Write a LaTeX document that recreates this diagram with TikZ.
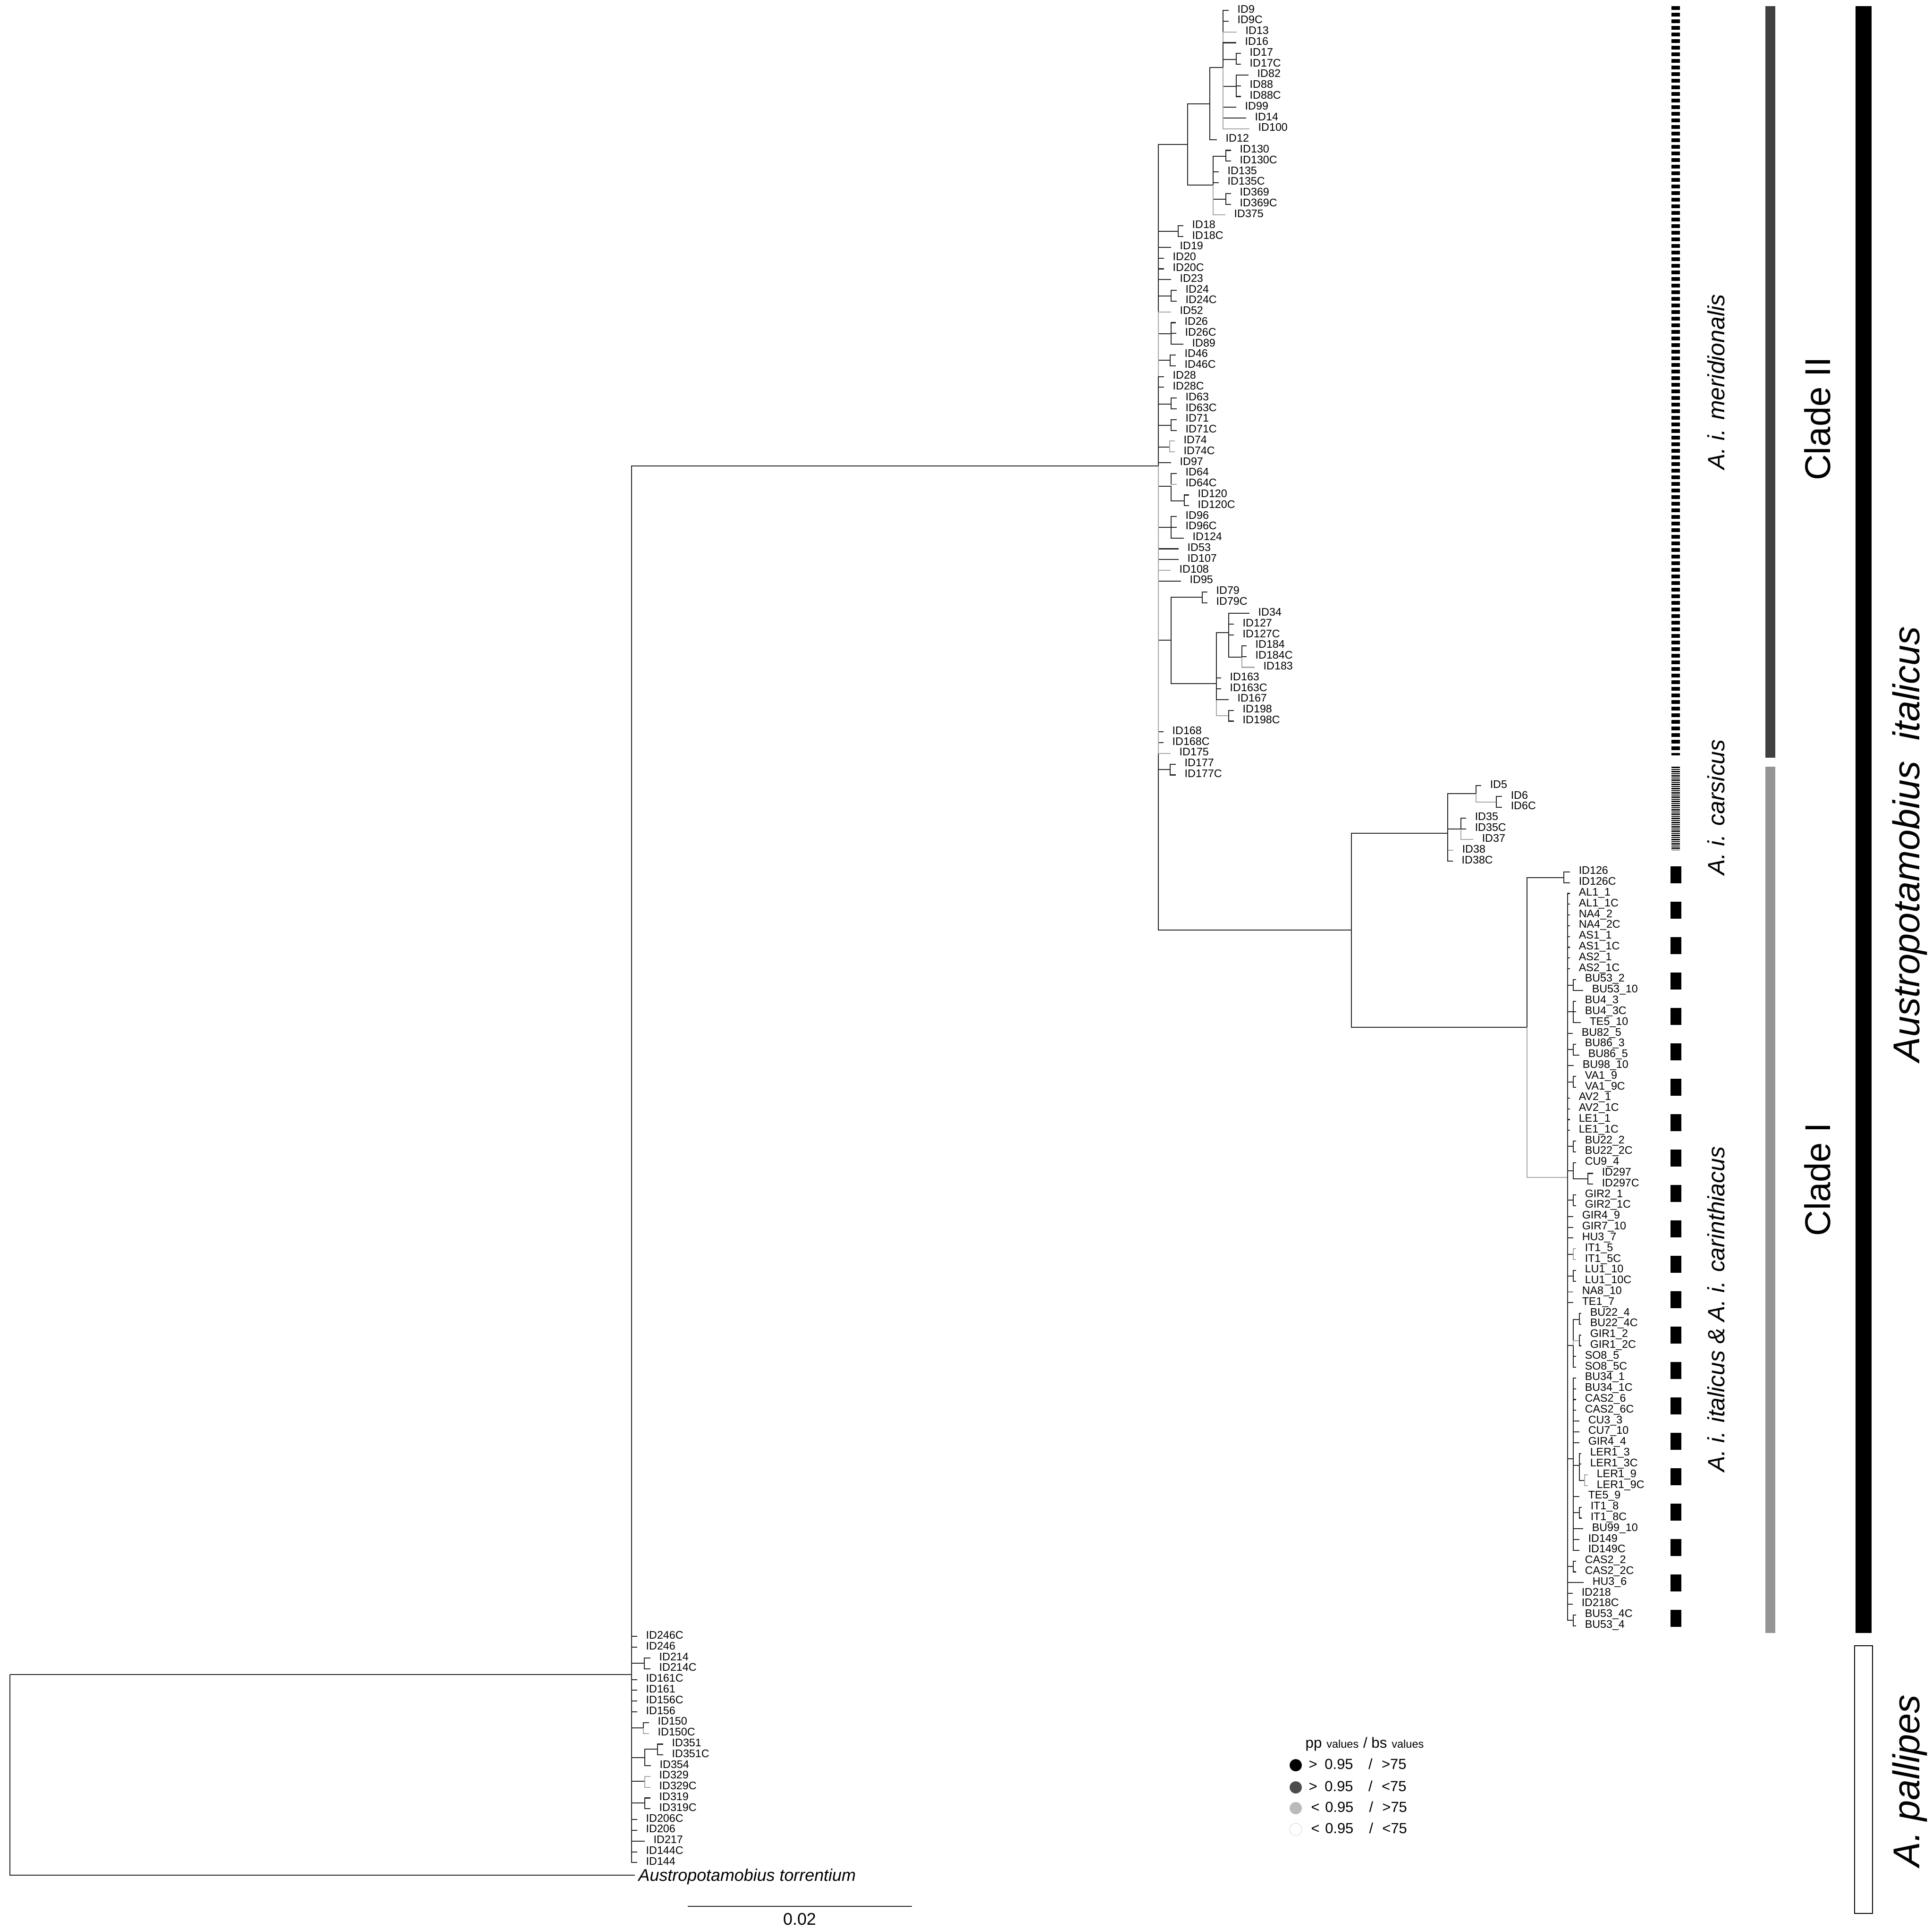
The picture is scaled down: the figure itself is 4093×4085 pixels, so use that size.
\documentclass[tikz,border=0pt]{standalone}
\usepackage{fontspec}
\setmainfont{Liberation Sans}
\usetikzlibrary{calc}
\newcommand\Lf[5][br]{%
  \coordinate (t#4) at (#3,{22+(#4-1)*22.81});
  \node[lab] (l#4) at ($(t#4)+(18,5)$) {#5};
  \draw[#1] (#2) |- (t#4);
}
\begin{document}
\begin{tikzpicture}[x=0.1mm,y=-0.1mm,
  br/.style={draw=black!85,line width=0.6pt},
  brl/.style={draw=black!35,line width=0.6pt},
  lab/.style={anchor=base west,inner sep=0pt,font=\fontsize{6.63pt}{7pt}\selectfont},
  subsp/.style={rotate=90,inner sep=0pt,font=\fontsize{14.2pt}{16pt}\selectfont\itshape},
  bigl/.style={rotate=90,inner sep=0pt,font=\fontsize{21.6pt}{24pt}\selectfont},
  legt/.style={anchor=base west,inner sep=0pt,font=\fontsize{8.8pt}{10pt}\selectfont},
  dot/.style={circle,inner sep=0pt,minimum size=2.6mm},
]
\useasboundingbox[fill=white] (0,0) rectangle (4093,4085);
% ---------- internal nodes ----------
\coordinate (root) at (21,3547);
\coordinate (P) at (1338,3547);
\coordinate (I) at (2454,987);
\coordinate (A) at (2516,306);
\coordinate (A1) at (2563,220);
\coordinate (B) at (2591,143);
\coordinate (B17) at (2619,126);
\coordinate (B82) at (2619,183);
\coordinate (A2) at (2570,392);
\coordinate (A130) at (2597,331);
\coordinate (A369) at (2597,422);
\coordinate (N18) at (2496,490);
\coordinate (N24) at (2481,627);
\coordinate (N26) at (2481,707);
\coordinate (N46) at (2479,763);
\coordinate (N63) at (2481,856);
\coordinate (N71) at (2481,901);
\coordinate (N74) at (2478,947);
\coordinate (N64) at (2481,1030);
\coordinate (N120) at (2509,1061);
\coordinate (N96) at (2481,1117);
\coordinate (N79all) at (2481,1356);
\coordinate (N79) at (2547,1265);
\coordinate (N34all) at (2577,1448);
\coordinate (N34) at (2603,1340);
\coordinate (N184) at (2631,1392);
\coordinate (N198) at (2603,1516);
\coordinate (N177) at (2479,1630);
\coordinate (CI) at (2863,1970);
\coordinate (C) at (3067,1765);
\coordinate (C5) at (3127,1681);
\coordinate (C6) at (3170,1699);
\coordinate (C35) at (3095,1756);
\coordinate (CL1) at (3235,2176);
\coordinate (C126) at (3313,1859);
\coordinate (CM) at (3321,2494);
\coordinate (N53) at (3333,2087);
\coordinate (N4) at (3333,2143);
\coordinate (N86) at (3333,2223);
\coordinate (NVA) at (3333,2292);
\coordinate (N22) at (3333,2428);
\coordinate (NCU) at (3333,2480);
\coordinate (N297) at (3364,2497);
\coordinate (NGIR2) at (3333,2542);
\coordinate (NIT) at (3333,2657);
\coordinate (NLU) at (3333,2703);
\coordinate (X1) at (3333,2850);
\coordinate (N224) at (3346,2795);
\coordinate (NG1) at (3346,2840);
\coordinate (X2) at (3333,3090);
\coordinate (NLER) at (3346,3104);
\coordinate (NLER9) at (3357,3136);
\coordinate (NIT8) at (3346,3204);
\coordinate (NCAS) at (3333,3318);
\coordinate (NB534) at (3333,3432);
\coordinate (N214) at (1365,3523);
\coordinate (N150) at (1363,3660);
\coordinate (N351all) at (1366,3723);
\coordinate (N351) at (1393,3705);
\coordinate (N329) at (1366,3773);
\coordinate (N319) at (1366,3819);
% ---------- internal edges ----------
\draw[br] (root) -- (P);
\draw[br] (P) |- (I);
\foreach \c in {A,N18,N24,N26,N46,N63,N71,N74,N64,N96,N79all,N177,CI}{\draw[br] (I) |- (\c);}
\draw[br] (A) |- (A1); \draw[br] (A) |- (A2);
\draw[br] (A1) |- (B);
\draw[br] (B) |- (B17); \draw[br] (B) |- (B82);
\draw[br] (A2) |- (A130); \draw[br] (A2) |- (A369);
\draw[br] (N64) |- (N120);
\draw[br] (N79all) |- (N79); \draw[br] (N79all) |- (N34all);
\draw[br] (N34all) |- (N34); \draw[brl] (N34all) |- (N198);
\draw[br] (N34) |- (N184);
\draw[br] (CI) |- (C); \draw[br] (CI) |- (CL1);
\draw[br] (C) |- (C5); \draw[br] (C) |- (C35);
\draw[brl] (C5) |- (C6);
\draw[br] (CL1) |- (C126); \draw[brl] (CL1) |- (CM);
\foreach \c in {N53,N4,N86,NVA,N22,NCU,NGIR2,NIT,NLU,X1,X2,NCAS,NB534}{\draw[br] (CM) |- (\c);}
\draw[br] (NCU) |- (N297);
\draw[br] (X1) |- (N224); \draw[brl] (X1) |- (NG1);
\draw[br] (X2) |- (NLER); \draw[br] (X2) |- (NIT8);
\draw[br] (NLER) |- (NLER9);
\foreach \c in {N214,N150,N351all,N329,N319}{\draw[br] (P) |- (\c);}
\draw[br] (N351all) |- (N351);
% ---------- leaves ----------
\Lf{B}{2603}{1}{ID9}
\Lf{B}{2603}{2}{ID9C}
\Lf[brl]{B}{2620}{3}{ID13}
\Lf{B}{2619}{4}{ID16}
\Lf{B17}{2629}{5}{ID17}
\Lf{B17}{2629}{6}{ID17C}
\Lf{B82}{2645}{7}{ID82}
\Lf{B82}{2629}{8}{ID88}
\Lf{B82}{2629}{9}{ID88C}
\Lf{B}{2619}{10}{ID99}
\Lf{B}{2640}{11}{ID14}
\Lf[brl]{B}{2647}{12}{ID100}
\Lf{A1}{2578}{13}{ID12}
\Lf{A130}{2608}{14}{ID130}
\Lf{A130}{2608}{15}{ID130C}
\Lf{A2}{2582}{16}{ID135}
\Lf{A2}{2582}{17}{ID135C}
\Lf{A369}{2608}{18}{ID369}
\Lf{A369}{2608}{19}{ID369C}
\Lf[brl]{A2}{2596}{20}{ID375}
\Lf{N18}{2507}{21}{ID18}
\Lf{N18}{2507}{22}{ID18C}
\Lf{I}{2481}{23}{ID19}
\Lf{I}{2466}{24}{ID20}
\Lf{I}{2466}{25}{ID20C}
\Lf{I}{2481}{26}{ID23}
\Lf{N24}{2493}{27}{ID24}
\Lf{N24}{2493}{28}{ID24C}
\Lf[brl]{I}{2481}{29}{ID52}
\Lf{N26}{2491}{30}{ID26}
\Lf{N26}{2492}{31}{ID26C}
\Lf{N26}{2507}{32}{ID89}
\Lf{N46}{2491}{33}{ID46}
\Lf{N46}{2491}{34}{ID46C}
\Lf{I}{2466}{35}{ID28}
\Lf{I}{2466}{36}{ID28C}
\Lf{N63}{2493}{37}{ID63}
\Lf{N63}{2493}{38}{ID63C}
\Lf{N71}{2493}{39}{ID71}
\Lf{N71}{2493}{40}{ID71C}
\Lf[brl]{N74}{2489}{41}{ID74}
\Lf[brl]{N74}{2489}{42}{ID74C}
\Lf{I}{2481}{43}{ID97}
\Lf{N64}{2493}{44}{ID64}
\Lf[brl]{N64}{2493}{45}{ID64C}
\Lf{N120}{2519}{46}{ID120}
\Lf{N120}{2519}{47}{ID120C}
\Lf{N96}{2493}{48}{ID96}
\Lf{N96}{2493}{49}{ID96C}
\Lf{N96}{2508}{50}{ID124}
\Lf{I}{2497}{51}{ID53}
\Lf{I}{2497}{52}{ID107}
\Lf[brl]{I}{2480}{53}{ID108}
\Lf{I}{2502}{54}{ID95}
\Lf{N79}{2558}{55}{ID79}
\Lf{N79}{2558}{56}{ID79C}
\Lf{N34}{2647}{57}{ID34}
\Lf{N34}{2614}{58}{ID127}
\Lf{N34}{2614}{59}{ID127C}
\Lf{N184}{2641}{60}{ID184}
\Lf{N184}{2641}{61}{ID184C}
\Lf[brl]{N184}{2658}{62}{ID183}
\Lf{N34all}{2587}{63}{ID163}
\Lf{N34all}{2587}{64}{ID163C}
\Lf{N34all}{2603}{65}{ID167}
\Lf{N198}{2614}{66}{ID198}
\Lf{N198}{2614}{67}{ID198C}
\Lf{I}{2465}{68}{ID168}
\Lf{I}{2465}{69}{ID168C}
\Lf[brl]{I}{2480}{70}{ID175}
\Lf{N177}{2491}{71}{ID177}
\Lf{N177}{2491}{72}{ID177C}
\Lf{C5}{3138}{73}{ID5}
\Lf{C6}{3182}{74}{ID6}
\Lf{C6}{3182}{75}{ID6C}
\Lf{C35}{3106}{76}{ID35}
\Lf{C35}{3106}{77}{ID35C}
\Lf[brl]{C35}{3121}{78}{ID37}
\Lf[brl]{C}{3079}{79}{ID38}
\Lf{C}{3078}{80}{ID38C}
\Lf{C126}{3326}{81}{ID126}
\Lf{C126}{3326}{82}{ID126C}
\Lf{CM}{3326}{83}{AL1\_1}
\Lf{CM}{3326}{84}{AL1\_1C}
\Lf{CM}{3326}{85}{NA4\_2}
\Lf{CM}{3326}{86}{NA4\_2C}
\Lf{CM}{3326}{87}{AS1\_1}
\Lf{CM}{3326}{88}{AS1\_1C}
\Lf{CM}{3326}{89}{AS2\_1}
\Lf{CM}{3326}{90}{AS2\_1C}
\Lf{N53}{3339}{91}{BU53\_2}
\Lf{N53}{3354}{92}{BU53\_10}
\Lf{N4}{3339}{93}{BU4\_3}
\Lf{N4}{3339}{94}{BU4\_3C}
\Lf{N4}{3349}{95}{TE5\_10}
\Lf{CM}{3332}{96}{BU82\_5}
\Lf{N86}{3339}{97}{BU86\_3}
\Lf{N86}{3346}{98}{BU86\_5}
\Lf{CM}{3334}{99}{BU98\_10}
\Lf{NVA}{3339}{100}{VA1\_9}
\Lf{NVA}{3339}{101}{VA1\_9C}
\Lf{CM}{3326}{102}{AV2\_1}
\Lf{CM}{3326}{103}{AV2\_1C}
\Lf{CM}{3326}{104}{LE1\_1}
\Lf{CM}{3326}{105}{LE1\_1C}
\Lf{N22}{3339}{106}{BU22\_2}
\Lf{N22}{3339}{107}{BU22\_2C}
\Lf{NCU}{3339}{108}{CU9\_4}
\Lf{N297}{3375}{109}{ID297}
\Lf{N297}{3375}{110}{ID297C}
\Lf{NGIR2}{3339}{111}{GIR2\_1}
\Lf{NGIR2}{3339}{112}{GIR2\_1C}
\Lf{CM}{3333}{113}{GIR4\_9}
\Lf{CM}{3333}{114}{GIR7\_10}
\Lf{CM}{3333}{115}{HU3\_7}
\Lf[brl]{NIT}{3339}{116}{IT1\_5}
\Lf[brl]{NIT}{3339}{117}{IT1\_5C}
\Lf{NLU}{3339}{118}{LU1\_10}
\Lf{NLU}{3339}{119}{LU1\_10C}
\Lf[brl]{CM}{3333}{120}{NA8\_10}
\Lf{CM}{3333}{121}{TE1\_7}
\Lf{N224}{3350}{122}{BU22\_4}
\Lf{N224}{3350}{123}{BU22\_4C}
\Lf{NG1}{3350}{124}{GIR1\_2}
\Lf{NG1}{3350}{125}{GIR1\_2C}
\Lf{X1}{3339}{126}{SO8\_5}
\Lf{X1}{3339}{127}{SO8\_5C}
\Lf{X2}{3339}{128}{BU34\_1}
\Lf{X2}{3339}{129}{BU34\_1C}
\Lf{X2}{3339}{130}{CAS2\_6}
\Lf{X2}{3339}{131}{CAS2\_6C}
\Lf{X2}{3346}{132}{CU3\_3}
\Lf{X2}{3346}{133}{CU7\_10}
\Lf{X2}{3346}{134}{GIR4\_4}
\Lf{NLER}{3350}{135}{LER1\_3}
\Lf{NLER}{3350}{136}{LER1\_3C}
\Lf[brl]{NLER9}{3364}{137}{LER1\_9}
\Lf[brl]{NLER9}{3364}{138}{LER1\_9C}
\Lf{X2}{3346}{139}{TE5\_9}
\Lf{NIT8}{3351}{140}{IT1\_8}
\Lf{NIT8}{3351}{141}{IT1\_8C}
\Lf{X2}{3354}{142}{BU99\_10}
\Lf{X2}{3346}{143}{ID149}
\Lf{X2}{3346}{144}{ID149C}
\Lf{NCAS}{3339}{145}{CAS2\_2}
\Lf{NCAS}{3339}{146}{CAS2\_2C}
\Lf{CM}{3355}{147}{HU3\_6}
\Lf{CM}{3332}{148}{ID218}
\Lf{CM}{3332}{149}{ID218C}
\Lf{NB534}{3339}{150}{BU53\_4C}
\Lf{NB534}{3339}{151}{BU53\_4}
\Lf{P}{1350}{152}{ID246C}
\Lf{P}{1350}{153}{ID246}
\Lf{N214}{1378}{154}{ID214}
\Lf{N214}{1378}{155}{ID214C}
\Lf{P}{1350}{156}{ID161C}
\Lf{P}{1350}{157}{ID161}
\Lf{P}{1350}{158}{ID156C}
\Lf{P}{1350}{159}{ID156}
\Lf{N150}{1375}{160}{ID150}
\Lf[brl]{N150}{1375}{161}{ID150C}
\Lf{N351}{1405}{162}{ID351}
\Lf{N351}{1405}{163}{ID351C}
\Lf{N351all}{1379}{164}{ID354}
\Lf[brl]{N329}{1378}{165}{ID329}
\Lf[brl]{N329}{1378}{166}{ID329C}
\Lf{N319}{1378}{167}{ID319}
\Lf{N319}{1378}{168}{ID319C}
\Lf{P}{1350}{169}{ID206C}
\Lf{P}{1350}{170}{ID206}
\Lf{P}{1366}{171}{ID217}
\Lf{P}{1350}{172}{ID144C}
\Lf{P}{1350}{173}{ID144}
% outgroup
\coordinate (t174) at (1345,3972);
\node[anchor=base west,inner sep=0pt,font=\fontsize{10.2pt}{12pt}\selectfont\itshape] (l174) at (1352,3984) {Austropotamobius torrentium};
\draw[br] (root) |- (t174);
% ---------- scale bar ----------
\coordinate (sb1) at (1457,4038);
\coordinate (sb2) at (1932,4038);
\draw[br] (sb1) -- (sb2);
\node[anchor=base,inner sep=0pt,font=\fontsize{10.2pt}{12pt}\selectfont] (sbl) at (1694,4077) {0.02};
% ---------- legend ----------
\node[anchor=base west,inner sep=0pt] (lgh) at (2765,3702) {{\fontsize{8.9pt}{10pt}\selectfont pp} {\fontsize{6.7pt}{8pt}\selectfont values} {\fontsize{8.9pt}{10pt}\selectfont / bs} {\fontsize{6.7pt}{8pt}\selectfont values}};
\node[dot,fill=black] (d1) at (2745,3739) {};
\node[dot,fill=black!70] (d2) at (2745,3786) {};
\node[dot,fill=black!27] (d3) at (2745,3830) {};
\node[dot,fill=white,draw=black!15,line width=0.3pt] (d4) at (2745,3875) {};
\node[legt] (e1) at (2772,3747) {\makebox[9.6pt][l]{>}\makebox[26.4pt][l]{0.95}\makebox[7.9pt][l]{/}>75};
\node[legt] (e2) at (2772,3794) {\makebox[9.6pt][l]{>}\makebox[26.4pt][l]{0.95}\makebox[7.9pt][l]{/}<75};
\node[legt] (e3) at (2777,3838) {\makebox[8.4pt][l]{<}\makebox[26.6pt][l]{0.95}\makebox[7.9pt][l]{/}>75};
\node[legt] (e4) at (2777,3883) {\makebox[8.4pt][l]{<}\makebox[26.6pt][l]{0.95}\makebox[7.9pt][l]{/}<75};
% ---------- right-hand annotation ----------
\draw[line width=1.8mm,dash pattern=on 0.8mm off 0.6mm] (3550,13) -- (3550,1600);
\draw[line width=1.8mm,dash pattern=on 0.25mm off 0.2mm] (3550,1624) -- (3550,1800);
\draw[line width=2.3mm,dash pattern=on 3.6mm off 3.9mm] (3550,1835) -- (3550,3462);
\node[subsp] (s1) at (3636,809) {A. i. meridionalis};
\node[subsp] (s2) at (3636,1710) {A. i. carsicus};
\node[subsp] (s3) at (3636,2773) {A. i. italicus \& A. i. carinthiacus};
\fill[black!75] (3740,13) rectangle (3761,1605);
\fill[black!42] (3740,1624) rectangle (3761,3459);
\node[bigl] (k2) at (3850,887) {Clade II};
\node[bigl] (k1) at (3850,2498) {Clade I};
\fill[black] (3931,13) rectangle (3965,3459);
\draw[line width=0.7pt] (3929,3486) rectangle (3967,4053);
\node[bigl,font=\fontsize{22.5pt}{24pt}\selectfont\itshape] (sp1) at (4046,1788) {Austropotamobius\ \ italicus};
\node[bigl,font=\fontsize{22.5pt}{24pt}\selectfont\itshape] (sp2) at (4046,3772) {A. pallipes};
\end{tikzpicture}
\end{document}
